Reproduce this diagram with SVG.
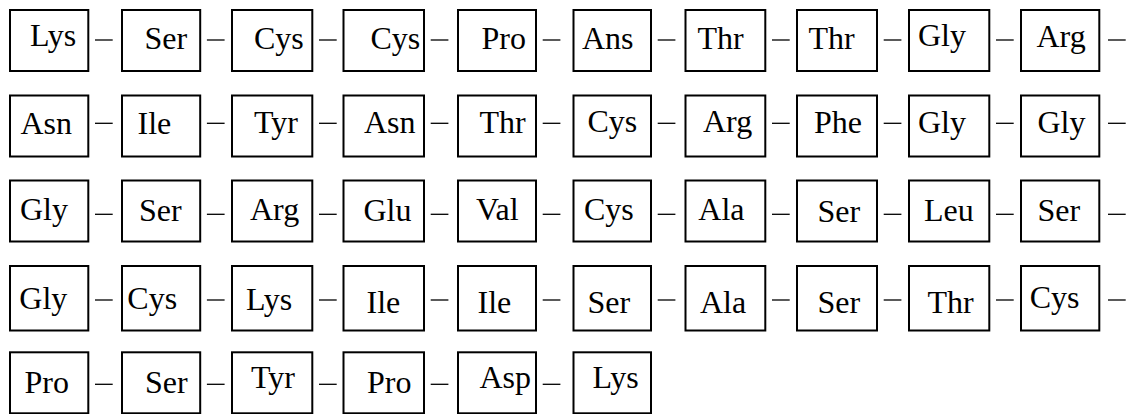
<svg xmlns="http://www.w3.org/2000/svg" width="1130" height="414" viewBox="0 0 1130 414">
<style>
rect.b{fill:#fff;stroke:#000;stroke-width:2}
line{stroke:#000;stroke-width:1.3}
</style>
<rect width="1130" height="414" fill="#fff"/>
<g id="connectors">
<line x1="95" y1="40" x2="112.7" y2="40"/><line x1="206.9" y1="40" x2="224.6" y2="40"/><line x1="319" y1="40" x2="336.7" y2="40"/><line x1="430.7" y1="40" x2="448.4" y2="40"/><line x1="542.7" y1="40" x2="560.4" y2="40"/><line x1="657.7" y1="40" x2="675.4" y2="40"/><line x1="772" y1="40" x2="789.7" y2="40"/><line x1="883.7" y1="40" x2="901.4" y2="40"/><line x1="996" y1="40" x2="1013.7" y2="40"/><line x1="1108" y1="40" x2="1125.7" y2="40"/>
<line x1="95" y1="123.3" x2="112.7" y2="123.3"/><line x1="206.9" y1="123.3" x2="224.6" y2="123.3"/><line x1="319" y1="123.3" x2="336.7" y2="123.3"/><line x1="430.7" y1="123.3" x2="448.4" y2="123.3"/><line x1="542.7" y1="123.3" x2="560.4" y2="123.3"/><line x1="657.7" y1="123.3" x2="675.4" y2="123.3"/><line x1="772" y1="123.3" x2="789.7" y2="123.3"/><line x1="883.7" y1="123.3" x2="901.4" y2="123.3"/><line x1="996" y1="123.3" x2="1013.7" y2="123.3"/><line x1="1108" y1="123.3" x2="1125.7" y2="123.3"/>
<line x1="95" y1="214.3" x2="112.7" y2="214.3"/><line x1="206.9" y1="214.3" x2="224.6" y2="214.3"/><line x1="319" y1="214.3" x2="336.7" y2="214.3"/><line x1="430.7" y1="214.3" x2="448.4" y2="214.3"/><line x1="542.7" y1="214.3" x2="560.4" y2="214.3"/><line x1="657.7" y1="214.3" x2="675.4" y2="214.3"/><line x1="772" y1="214.3" x2="789.7" y2="214.3"/><line x1="883.7" y1="214.3" x2="901.4" y2="214.3"/><line x1="996" y1="214.3" x2="1013.7" y2="214.3"/><line x1="1108" y1="214.3" x2="1125.7" y2="214.3"/>
<line x1="95" y1="300" x2="112.7" y2="300"/><line x1="206.9" y1="300" x2="224.6" y2="300"/><line x1="319" y1="300" x2="336.7" y2="300"/><line x1="430.7" y1="300" x2="448.4" y2="300"/><line x1="542.7" y1="300" x2="560.4" y2="300"/><line x1="657.7" y1="300" x2="675.4" y2="300"/><line x1="772" y1="300" x2="789.7" y2="300"/><line x1="883.7" y1="300" x2="901.4" y2="300"/><line x1="996" y1="300" x2="1013.7" y2="300"/><line x1="1108" y1="300" x2="1125.7" y2="300"/>
<line x1="95" y1="384.3" x2="112.7" y2="384.3"/><line x1="206.9" y1="384.3" x2="224.6" y2="384.3"/><line x1="319" y1="384.3" x2="336.7" y2="384.3"/><line x1="430.7" y1="384.3" x2="448.4" y2="384.3"/><line x1="542.7" y1="384.3" x2="560.4" y2="384.3"/>
</g>
<g id="r1-1"><rect class="b" x="10" y="10" width="78.3" height="61"/><text font-family="Liberation Serif" font-size="32" x="30" y="45.7">Lys</text></g>
<g id="r1-2"><rect class="b" x="122" y="10" width="78.2" height="61"/><text font-family="Liberation Serif" font-size="32" x="144.5" y="49.3">Ser</text></g>
<g id="r1-3"><rect class="b" x="232" y="10" width="80.3" height="61"/><text font-family="Liberation Serif" font-size="32" x="254" y="49.3">Cys</text></g>
<g id="r1-4"><rect class="b" x="343.5" y="10" width="80.5" height="61"/><text font-family="Liberation Serif" font-size="32" x="370.5" y="49.3">Cys</text></g>
<g id="r1-5"><rect class="b" x="458" y="10" width="78" height="61"/><text font-family="Liberation Serif" font-size="32" x="481.5" y="49">Pro</text></g>
<g id="r1-6"><rect class="b" x="573.5" y="10" width="77.5" height="61"/><text font-family="Liberation Serif" font-size="32" x="582" y="49">Ans</text></g>
<g id="r1-7"><rect class="b" x="685.5" y="10" width="79.8" height="61"/><text font-family="Liberation Serif" font-size="32" x="697.5" y="49">Thr</text></g>
<g id="r1-8"><rect class="b" x="797" y="10" width="80" height="61"/><text font-family="Liberation Serif" font-size="32" x="808.5" y="49">Thr</text></g>
<g id="r1-9"><rect class="b" x="909" y="10" width="80.3" height="61"/><text font-family="Liberation Serif" font-size="32" x="918" y="46">Gly</text></g>
<g id="r1-10"><rect class="b" x="1021" y="10" width="78.3" height="61"/><text font-family="Liberation Serif" font-size="32" x="1036.5" y="47">Arg</text></g>

<g id="r2-1"><rect class="b" x="10" y="95.5" width="78.3" height="61"/><text font-family="Liberation Serif" font-size="32" x="20.5" y="134">Asn</text></g>
<g id="r2-2"><rect class="b" x="122" y="95.5" width="78.2" height="61"/><text font-family="Liberation Serif" font-size="32" x="137.5" y="134">Ile</text></g>
<g id="r2-3"><rect class="b" x="232" y="95.5" width="80.3" height="61"/><text font-family="Liberation Serif" font-size="32" x="254" y="133">Tyr</text></g>
<g id="r2-4"><rect class="b" x="343.5" y="95.5" width="80.5" height="61"/><text font-family="Liberation Serif" font-size="32" x="364" y="133.3">Asn</text></g>
<g id="r2-5"><rect class="b" x="458" y="95.5" width="78" height="61"/><text font-family="Liberation Serif" font-size="32" x="479.5" y="133">Thr</text></g>
<g id="r2-6"><rect class="b" x="573.5" y="95.5" width="77.5" height="61"/><text font-family="Liberation Serif" font-size="32" x="587.5" y="132">Cys</text></g>
<g id="r2-7"><rect class="b" x="685.5" y="95.5" width="79.8" height="61"/><text font-family="Liberation Serif" font-size="32" x="703" y="132">Arg</text></g>
<g id="r2-8"><rect class="b" x="797" y="95.5" width="80" height="61"/><text font-family="Liberation Serif" font-size="32" x="814" y="133">Phe</text></g>
<g id="r2-9"><rect class="b" x="909" y="95.5" width="80.3" height="61"/><text font-family="Liberation Serif" font-size="32" x="918" y="133">Gly</text></g>
<g id="r2-10"><rect class="b" x="1021" y="95.5" width="78.3" height="61"/><text font-family="Liberation Serif" font-size="32" x="1037.5" y="133">Gly</text></g>

<g id="r3-1"><rect class="b" x="10" y="180.5" width="78.3" height="61"/><text font-family="Liberation Serif" font-size="32" x="20" y="220">Gly</text></g>
<g id="r3-2"><rect class="b" x="122" y="180.5" width="78.2" height="61"/><text font-family="Liberation Serif" font-size="32" x="139" y="221">Ser</text></g>
<g id="r3-3"><rect class="b" x="232" y="180.5" width="80.3" height="61"/><text font-family="Liberation Serif" font-size="32" x="250" y="220">Arg</text></g>
<g id="r3-4"><rect class="b" x="343.5" y="180.5" width="80.5" height="61"/><text font-family="Liberation Serif" font-size="32" x="363.5" y="220.5">Glu</text></g>
<g id="r3-5"><rect class="b" x="458" y="180.5" width="78" height="61"/><text font-family="Liberation Serif" font-size="32" x="476" y="220">Val</text></g>
<g id="r3-6"><rect class="b" x="573.5" y="180.5" width="77.5" height="61"/><text font-family="Liberation Serif" font-size="32" x="584" y="220">Cys</text></g>
<g id="r3-7"><rect class="b" x="685.5" y="180.5" width="79.8" height="61"/><text font-family="Liberation Serif" font-size="32" x="698.3" y="220">Ala</text></g>
<g id="r3-8"><rect class="b" x="797" y="180.5" width="80" height="61"/><text font-family="Liberation Serif" font-size="32" x="817.5" y="221.5">Ser</text></g>
<g id="r3-9"><rect class="b" x="909" y="180.5" width="80.3" height="61"/><text font-family="Liberation Serif" font-size="32" x="924" y="221">Leu</text></g>
<g id="r3-10"><rect class="b" x="1021" y="180.5" width="78.3" height="61"/><text font-family="Liberation Serif" font-size="32" x="1037.5" y="221">Ser</text></g>

<g id="r4-1"><rect class="b" x="10" y="266" width="78.3" height="64.5"/><text font-family="Liberation Serif" font-size="32" x="19.3" y="309.3">Gly</text></g>
<g id="r4-2"><rect class="b" x="122" y="266" width="78.2" height="64.5"/><text font-family="Liberation Serif" font-size="32" x="127.3" y="309.3">Cys</text></g>
<g id="r4-3"><rect class="b" x="232" y="266" width="80.3" height="64.5"/><text font-family="Liberation Serif" font-size="32" x="246" y="310">Lys</text></g>
<g id="r4-4"><rect class="b" x="343.5" y="266" width="80.5" height="64.5"/><text font-family="Liberation Serif" font-size="32" x="366.5" y="312.5">Ile</text></g>
<g id="r4-5"><rect class="b" x="458" y="266" width="78" height="64.5"/><text font-family="Liberation Serif" font-size="32" x="477.5" y="312.5">Ile</text></g>
<g id="r4-6"><rect class="b" x="573.5" y="266" width="77.5" height="64.5"/><text font-family="Liberation Serif" font-size="32" x="587.5" y="312.5">Ser</text></g>
<g id="r4-7"><rect class="b" x="685.5" y="266" width="79.8" height="64.5"/><text font-family="Liberation Serif" font-size="32" x="700" y="312.5">Ala</text></g>
<g id="r4-8"><rect class="b" x="797" y="266" width="80" height="64.5"/><text font-family="Liberation Serif" font-size="32" x="817.5" y="312.5">Ser</text></g>
<g id="r4-9"><rect class="b" x="909" y="266" width="80.3" height="64.5"/><text font-family="Liberation Serif" font-size="32" x="927.5" y="312.5">Thr</text></g>
<g id="r4-10"><rect class="b" x="1021" y="266" width="78.3" height="64.5"/><text font-family="Liberation Serif" font-size="32" x="1029.7" y="308.3">Cys</text></g>

<g id="r5-1"><rect class="b" x="10" y="352.3" width="78.3" height="61"/><text font-family="Liberation Serif" font-size="32" x="24.5" y="392.7">Pro</text></g>
<g id="r5-2"><rect class="b" x="122" y="352.3" width="78.2" height="61"/><text font-family="Liberation Serif" font-size="32" x="145" y="393.3">Ser</text></g>
<g id="r5-3"><rect class="b" x="232" y="352.3" width="80.3" height="61"/><text font-family="Liberation Serif" font-size="32" x="251" y="388.3">Tyr</text></g>
<g id="r5-4"><rect class="b" x="343.5" y="352.3" width="80.5" height="61"/><text font-family="Liberation Serif" font-size="32" x="367" y="393.3">Pro</text></g>
<g id="r5-5"><rect class="b" x="458" y="352.3" width="78" height="61"/><text font-family="Liberation Serif" font-size="32" x="479.5" y="388.3">Asp</text></g>
<g id="r5-6"><rect class="b" x="573.5" y="352.3" width="77.5" height="61"/><text font-family="Liberation Serif" font-size="32" x="592.5" y="388.3">Lys</text></g>
</svg>
